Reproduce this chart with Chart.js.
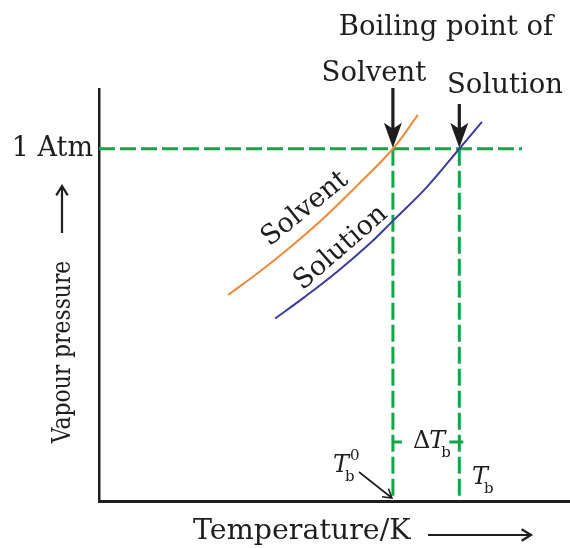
<!DOCTYPE html>
<html>
<head>
<meta charset="utf-8">
<script src="https://cdn.jsdelivr.net/npm/chart.js@4.4.1/dist/chart.umd.min.js"></script>
<style>
  html, body { margin: 0; padding: 0; background: #fff; }
</style>
</head>
<body>
<canvas id="chart" width="570" height="548"></canvas>
<script>
// temperature and vapour pressure in arbitrary units (0-100)
const solventT  = [27.4, 33.8, 40.9, 48.0, 55.0, 62.4, 67.7];
const solventP  = [50.0, 55.4, 61.9, 69.0, 76.8, 85.5, 93.7];
const solutionT = [37.4, 43.4, 50.5, 57.5, 62.4, 69.6, 76.5, 81.3];
const solutionP = [44.3, 49.3, 55.6, 62.5, 68.0, 76.2, 85.5, 92.0];
const atm = 85.5;          // 1 Atm pressure level
const tb0 = 62.4;          // boiling point of solvent
const tb = 76.5;           // boiling point of solution
const atmLineEnd = 89.8;   // where the dashed 1 Atm line stops
const yTickLabels = ['1 Atm'];

const ink = '#1e1e1e';
const green = '#14a54b';
const serif = '"DejaVu Serif", serif';

const toPoints = (xs, ys) => xs.map((v, i) => ({ x: v, y: ys[i] }));

// filled arrow pointing down
function boldArrow(ctx, x, y1, y2) {
  ctx.beginPath();
  ctx.lineWidth = 3.2;
  ctx.moveTo(x, y1);
  ctx.lineTo(x, y2 - 14);
  ctx.stroke();
  ctx.beginPath();
  ctx.moveTo(x, y2);
  ctx.lineTo(x - 9, y2 - 25);
  ctx.lineTo(x, y2 - 19);
  ctx.lineTo(x + 9, y2 - 25);
  ctx.closePath();
  ctx.fill();
}

// thin arrow with open head
function openArrow(ctx, x1, y1, x2, y2, w, head) {
  const a = Math.atan2(y2 - y1, x2 - x1);
  ctx.lineWidth = w;
  ctx.beginPath();
  ctx.moveTo(x1, y1);
  ctx.lineTo(x2, y2);
  ctx.moveTo(x2 - head * Math.cos(a - 0.55), y2 - head * Math.sin(a - 0.55));
  ctx.lineTo(x2, y2);
  ctx.lineTo(x2 - head * Math.cos(a + 0.55), y2 - head * Math.sin(a + 0.55));
  ctx.stroke();
}

function rotText(ctx, txt, x, y, deg, squeeze) {
  ctx.save();
  ctx.translate(x, y);
  ctx.rotate(deg * Math.PI / 180);
  if (squeeze) ctx.scale(squeeze, 1);
  ctx.fillText(txt, 0, 0);
  ctx.restore();
}

// italic T with subscript b and optional superscript, starting at left x
function tSymbol(ctx, x, y, sup) {
  ctx.textAlign = 'left';
  ctx.font = 'italic 24px ' + serif;
  ctx.fillText('T', x, y);
  const w = ctx.measureText('T').width;
  ctx.font = '15px ' + serif;
  ctx.fillText('b', x + w - 4, y + 11);
  if (sup) ctx.fillText(sup, x + w + 1, y - 10);
}

const annotations = {
  id: 'annotations',
  afterDraw(chart) {
    const { ctx, scales: { x, y } } = chart;
    const xb0 = x.getPixelForValue(tb0);
    const xb = x.getPixelForValue(tb);
    const yAtm = y.getPixelForValue(atm);
    const yBase = y.getPixelForValue(0);

    ctx.save();
    ctx.fillStyle = ink;
    ctx.strokeStyle = ink;
    ctx.textAlign = 'center';
    ctx.textBaseline = 'middle';
    ctx.font = '27.5px ' + serif;
    ctx.fillText('Boiling point of', 446, 28);
    ctx.fillText('Solvent', 374, 74);
    ctx.fillText('Solution', 505, 86);
    boldArrow(ctx, xb0, 88, yAtm - 1);
    boldArrow(ctx, xb, 104, yAtm - 1);

    // labels along the curves
    ctx.font = '27px ' + serif;
    rotText(ctx, 'Solvent', 305, 209, -39);
    rotText(ctx, 'Solution', 341, 248, -41);

    // axis titles
    ctx.font = '26px ' + serif;
    rotText(ctx, 'Vapour pressure', 63, 352, -90, 0.84);
    openArrow(ctx, 62, 233, 62, 186, 2.2, 11);
    ctx.textAlign = 'left';
    ctx.font = '28.5px ' + serif;
    ctx.fillText('Temperature/K', 193, 532);
    openArrow(ctx, 428, 535, 531, 535, 2.2, 11);

    // delta T_b marker
    const yd = 442;
    ctx.strokeStyle = green;
    ctx.lineWidth = 3;
    ctx.beginPath();
    ctx.moveTo(xb0, yd); ctx.lineTo(xb0 + 9, yd);
    ctx.moveTo(xb - 10, yd); ctx.lineTo(xb + 4, yd);
    ctx.stroke();
    ctx.font = '24px ' + serif;
    ctx.fillText('\u0394', 413, yd);
    tSymbol(ctx, 413 + ctx.measureText('\u0394').width - 1, yd);

    // T_b^0 and T_b
    tSymbol(ctx, 333, 466, '0');
    tSymbol(ctx, 472, 478);
    ctx.strokeStyle = ink;
    openArrow(ctx, 359, 472, xb0 - 1, yBase - 3, 1.6, 10);
    ctx.restore();
  }
};

new Chart(document.getElementById('chart'), {
  type: 'scatter',
  data: {
    datasets: [
      {
        label: 'Solvent',
        data: toPoints(solventT, solventP),
        showLine: true,
        borderColor: '#f08a3a',
        borderWidth: 2,
        pointRadius: 0,
        tension: 0.4
      },
      {
        label: 'Solution',
        data: toPoints(solutionT, solutionP),
        showLine: true,
        borderColor: '#3c3c9c',
        borderWidth: 2,
        pointRadius: 0,
        tension: 0.4
      },
      {
        label: '1 Atm',
        data: [{ x: 0, y: atm }, { x: atmLineEnd, y: atm }],
        showLine: true,
        borderColor: green,
        borderWidth: 3,
        borderDash: [16, 5],
        pointRadius: 0
      },
      {
        label: 'Tb0',
        data: [{ x: tb0, y: atm }, { x: tb0, y: 0 }],
        showLine: true,
        borderColor: green,
        borderWidth: 3,
        borderDash: [17, 5],
        pointRadius: 0
      },
      {
        label: 'Tb',
        data: [{ x: tb, y: atm }, { x: tb, y: 0 }],
        showLine: true,
        borderColor: green,
        borderWidth: 3,
        borderDash: [17, 5],
        pointRadius: 0
      }
    ]
  },
  options: {
    responsive: false,
    animation: false,
    layout: { padding: { top: 89, left: 0, right: 0, bottom: 0 } },
    plugins: { legend: { display: false }, tooltip: { enabled: false } },
    scales: {
      x: {
        min: 0,
        max: 100,
        grid: { display: false },
        border: { display: true, color: ink, width: 3 },
        ticks: { display: false },
        afterFit: (scale) => { scale.height = 47; }
      },
      y: {
        min: 0,
        max: 100,
        grid: { display: false, drawTicks: false },
        border: { display: true, color: ink, width: 2.5 },
        afterBuildTicks: (scale) => { scale.ticks = [{ value: atm }]; },
        ticks: {
          padding: 6,
          color: ink,
          font: { family: 'DejaVu Serif', size: 27 },
          callback: () => yTickLabels[0]
        },
        afterFit: (scale) => { scale.width = 99; }
      }
    }
  },
  plugins: [annotations]
});
</script>
</body>
</html>
